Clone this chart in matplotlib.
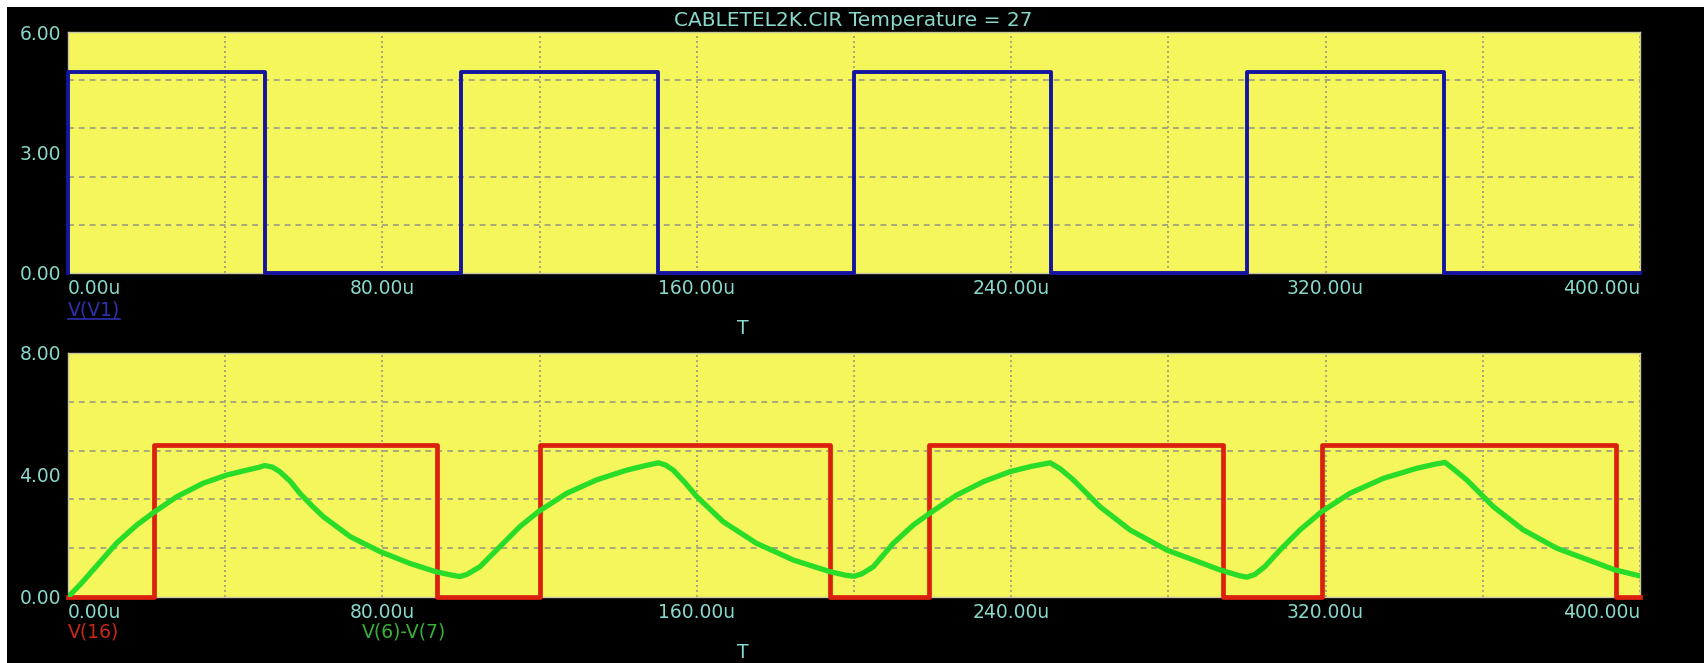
import matplotlib
matplotlib.use('Agg')
import matplotlib.pyplot as plt
from matplotlib.ticker import MultipleLocator
from matplotlib.lines import Line2D
from matplotlib.patches import Rectangle

# V(V1): source pulse, time in us
v1_t = [0, 0, 50, 50, 100, 100, 150, 150, 200, 200, 250, 250, 300, 300, 350, 350, 400]
v1_v = [0, 5, 5, 0, 0, 5, 5, 0, 0, 5, 5, 0, 0, 5, 5, 0, 0]

# V(16): delayed pulse at the far end
v16_t = [0, 22, 22, 94, 94, 120, 120, 194, 194, 219, 219, 294, 294, 319, 319, 394, 394, 400]
v16_v = [0, 0, 5, 5, 0, 0, 5, 5, 0, 0, 5, 5, 0, 0, 5, 5, 0, 0]

# V(6)-V(7)
v67_t = [0, 3.2, 6.4, 9.4, 12.4, 17.5, 22.1, 27.7, 34.4, 40.4, 45.5, 48.5, 50.1, 52.0, 53.9,
         56.5, 59.0, 62.0, 65.0, 71.8, 79.4, 87.0, 93.6, 97.5, 99.7, 101.5, 104.8, 109.9,
         115.0, 119.7, 126.9, 134.5, 142.2, 147.0, 150.2, 152.0, 154.0, 157.0, 160.0, 166.7,
         175.2, 184.6, 193.9, 198.0, 200.0, 202.0, 204.9, 210.0, 215.1, 219.2, 226.1, 232.9,
         239.7, 245.0, 249.9, 252.5, 255.8, 262.6, 270.2, 279.6, 293.1, 298.0, 300.0, 302.0,
         304.5, 308.4, 313.5, 319.0, 326.2, 334.7, 343.2, 348.0, 350.4, 352.5, 355.9, 362.7,
         370.3, 378.8, 393.6, 400]
v67_v = [0, 0.42, 0.89, 1.33, 1.77, 2.36, 2.80, 3.29, 3.73, 4.00, 4.16, 4.25, 4.31, 4.26, 4.11,
         3.80, 3.40, 3.00, 2.63, 1.98, 1.49, 1.10, 0.83, 0.72, 0.67, 0.74, 0.99, 1.65,
         2.31, 2.80, 3.40, 3.84, 4.16, 4.31, 4.40, 4.33, 4.16, 3.75, 3.29, 2.47,
         1.76, 1.21, 0.83, 0.71, 0.68, 0.76, 0.99, 1.76, 2.36, 2.74, 3.34, 3.78,
         4.11, 4.28, 4.40, 4.20, 3.84, 2.96, 2.20, 1.54, 0.89, 0.70, 0.65, 0.74,
         0.99, 1.54, 2.20, 2.80, 3.40, 3.89, 4.22, 4.36, 4.41, 4.20, 3.84, 2.96,
         2.20, 1.60, 0.89, 0.69]

x_ticks = [0, 80, 160, 240, 320, 400]
x_labels = ['0.00u', '80.00u', '160.00u', '240.00u', '320.00u', '400.00u']
top_yticks = [0, 3, 6]
top_ylabels = ['0.00', '3.00', '6.00']
bot_yticks = [0, 4, 8]
bot_ylabels = ['0.00', '4.00', '8.00']

W, H = 1704, 663
TXT = '#88d8cc'
YEL = '#f5f55c'
GRID = '#9a9a80'
FS = 13.5

fig = plt.figure(figsize=(W / 100, H / 100), dpi=100, facecolor='white')
fig.add_artist(Rectangle((7 / W, 0), 1, 1 - 7 / H, transform=fig.transFigure,
                         facecolor='black', edgecolor='none', zorder=-10))

def make_axes(top_px, bot_px, yticks, ylabels, ymax, ystep):
    ax = fig.add_axes([68 / W, 1 - bot_px / H, (1640 - 68) / W, (bot_px - top_px) / H])
    ax.set_facecolor(YEL)
    ax.set_xlim(0, 400)
    ax.set_ylim(0, ymax)
    ax.set_xticks(x_ticks, x_labels)
    ax.set_yticks(yticks, ylabels)
    ax.xaxis.set_minor_locator(MultipleLocator(40))
    ax.yaxis.set_minor_locator(MultipleLocator(ystep))
    ax.tick_params(which='both', length=0, colors=TXT, labelsize=FS)
    ax.tick_params(axis='x', pad=4)
    ax.tick_params(axis='y', pad=5)
    ax.grid(False)
    # vertical grid every 40u (major + minor), horizontal in five divisions
    ax.grid(True, which='both', axis='x', color=GRID, linestyle=(0, (1.2, 1.8)), linewidth=1.2)
    ax.grid(True, which='minor', axis='y', color=GRID, linestyle=(0, (3.5, 3)), linewidth=1.2)
    ax.set_axisbelow(True)
    for s in ax.spines.values():
        s.set_color('#c8c8a0')
        s.set_linewidth(1)
    labs = ax.get_xticklabels()
    labs[0].set_ha('left')
    labs[-1].set_ha('right')
    return ax

ax1 = make_axes(32, 273, top_yticks, top_ylabels, 6, 1.2)
ax1.plot(v1_t, v1_v, color='#1414a0', linewidth=2.8, clip_on=False, zorder=3)

ax2 = make_axes(353, 597, bot_yticks, bot_ylabels, 8, 1.6)
ax2.plot(v16_t, v16_v, color='#dc2010', linewidth=3.4, clip_on=False, zorder=3)
ax2.plot(v67_t, v67_v, color='#28dc28', linewidth=3.8, solid_joinstyle='round',
         solid_capstyle='round', zorder=4)

fig.text(853 / W, 1 - 20 / H, 'CABLETEL2K.CIR Temperature = 27', color=TXT,
         fontsize=14.5, ha='center', va='center')
fig.text(743 / W, 1 - 329 / H, 'T', color=TXT, fontsize=FS, ha='center', va='center')
fig.text(743 / W, 1 - 652 / H, 'T', color=TXT, fontsize=FS, ha='center', va='center')

lab_v1 = fig.text(68 / W, 1 - 310 / H, 'V(V1)', color='#3030b0', fontsize=FS,
                  ha='left', va='center')
fig.text(68 / W, 1 - 632 / H, 'V(16)', color='#c82818', fontsize=FS, ha='left', va='center')
fig.text(362 / W, 1 - 632 / H, 'V(6)-V(7)', color='#38b038', fontsize=FS, ha='left', va='center')

# underline under the V(V1) label
fig.canvas.draw()
bb = lab_v1.get_window_extent().transformed(fig.transFigure.inverted())
fig.add_artist(Line2D([bb.x0, bb.x1], [bb.y0 + 1 / H, bb.y0 + 1 / H], color='#3030b0',
                      linewidth=1.2, transform=fig.transFigure))

fig.savefig('out.png', dpi=100, facecolor=fig.get_facecolor())
